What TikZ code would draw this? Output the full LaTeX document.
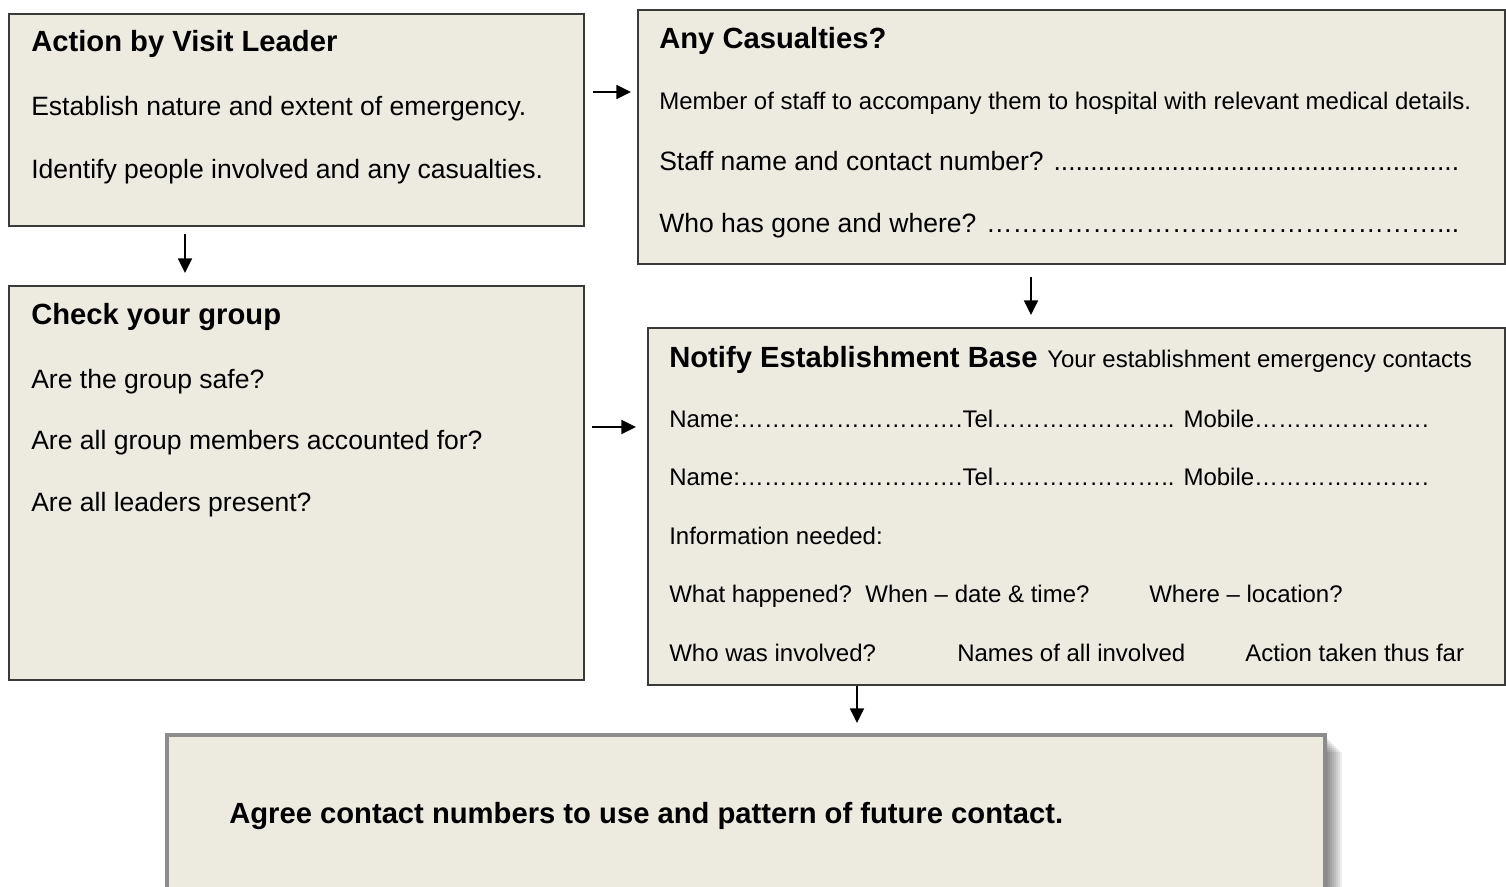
\documentclass[tikz,border=0pt]{standalone}
\usepackage{fontspec}
\setmainfont{Liberation Sans}
\usetikzlibrary{arrows.meta,fit}
\definecolor{boxfill}{HTML}{EDEAE0}
\definecolor{boxline}{HTML}{3A3A3A}
\definecolor{shline}{HTML}{8C8C8C}
\ExplSyntaxOn
\cs_new:Npn \myrep #1#2 { \prg_replicate:nn {#1} {#2} }
\ExplSyntaxOff
\begin{document}
\begin{tikzpicture}[x=0.75pt,y=-0.75pt,
  box/.style={draw=boxline,line width=0.9pt,fill=boxfill,inner sep=0pt},
  hd/.style={anchor=base west,inner sep=0pt,font=\fontsize{21.9}{26}\selectfont\bfseries},
  tx/.style={anchor=base west,inner sep=0pt,font=\fontsize{19.9}{24}\selectfont},
  sm/.style={anchor=base west,inner sep=0pt,font=\fontsize{18}{22}\selectfont},
  arr/.style={line width=1.3pt,-{Triangle[length=11pt,width=10.5pt]}}]
\useasboundingbox (0,0) rectangle (1506,887);
% boxes
\node[box,fit={(9,14)(584,226)}] (b1) {};
\node[box,fit={(638,10)(1505,264)}] (b2) {};
\node[box,fit={(9,286)(584,680)}] (b3) {};
\node[box,fit={(648,328)(1505,685)}] (b4) {};
% shadow of bottom box
\foreach \s in {3,5,...,17}{
  \fill[black,opacity=0.07] (167+\s,735+\s) rectangle (1325+\s,900);
}
\node[draw=shline,line width=2.4pt,fill=boxfill,inner sep=0pt,fit={(167,735)(1325,895)}] (b5) {};
% box 1 text
\node[hd] (t1a) at (31,52) {Action by Visit Leader};
\node[tx] (t1b) at (31,115.5) {Establish nature and extent of emergency.};
\node[tx] (t1c) at (31,178.5) {Identify people involved and any casualties.};
% box 2 text
\node[hd] (t2a) at (659,48.5) {Any Casualties?};
\node[sm] (t2b) at (659,109.5) {Member of staff to accompany them to hospital with relevant medical details.};
\node[tx] (t2c) at (659,170.5) {Staff name and contact number? .......................................................};
\node[tx] (t2d) at (659,232.5) {Who has gone and where? \myrep{17}{…}...};
% box 4 text
\node[hd] (t4a) at (669,367.5) {Notify Establishment Base};
\node[sm] (t4b) at (1047,367.5) {Your establishment emergency contacts};
\node[sm] (t4c) at (669,427.5) {Name:……………………….Tel………………….. Mobile………………….};
\node[sm] (t4d) at (669,485.5) {Name:……………………….Tel………………….. Mobile………………….};
\node[sm] (t4e) at (669,544.5) {Information needed:};
\node[sm] (t4f) at (669,602.5) {What happened?\ \ When – date \& time?};
\node[sm] (t4g) at (1149,602.5) {Where – location?};
\node[sm] (t4h) at (669,661.5) {Who was involved?};
\node[sm] (t4i) at (957,661.5) {Names of all involved};
\node[sm] (t4j) at (1245,661.5) {Action taken thus far};
% box 3 text
\node[hd] (t3a) at (31,324.5) {Check your group};
\node[tx] (t3b) at (31,388.5) {Are the group safe?};
\node[tx] (t3c) at (31,449.5) {Are all group members accounted for?};
\node[tx] (t3d) at (31,511.5) {Are all leaders present?};
% box 5 text
\node[hd] (t5) at (229,823.5) {Agree contact numbers to use and pattern of future contact.};
% arrow coordinates
\coordinate (a1s) at (593,92);  \coordinate (a1e) at (631,92);
\coordinate (a2s) at (185,234); \coordinate (a2e) at (185,273);
\coordinate (a3s) at (592,427); \coordinate (a3e) at (636,427);
\coordinate (a4s) at (1031,277); \coordinate (a4e) at (1031,315);
\coordinate (a5e) at (857,723);
\draw[arr] (a1s) -- (a1e);
\draw[arr] (a2s) -- (a2e);
\draw[arr] (a3s) -- (a3e);
\draw[arr] (a4s) -- (a4e);
\draw[arr] (b4.south -| a5e) -- (a5e);
\end{tikzpicture}
\end{document}
